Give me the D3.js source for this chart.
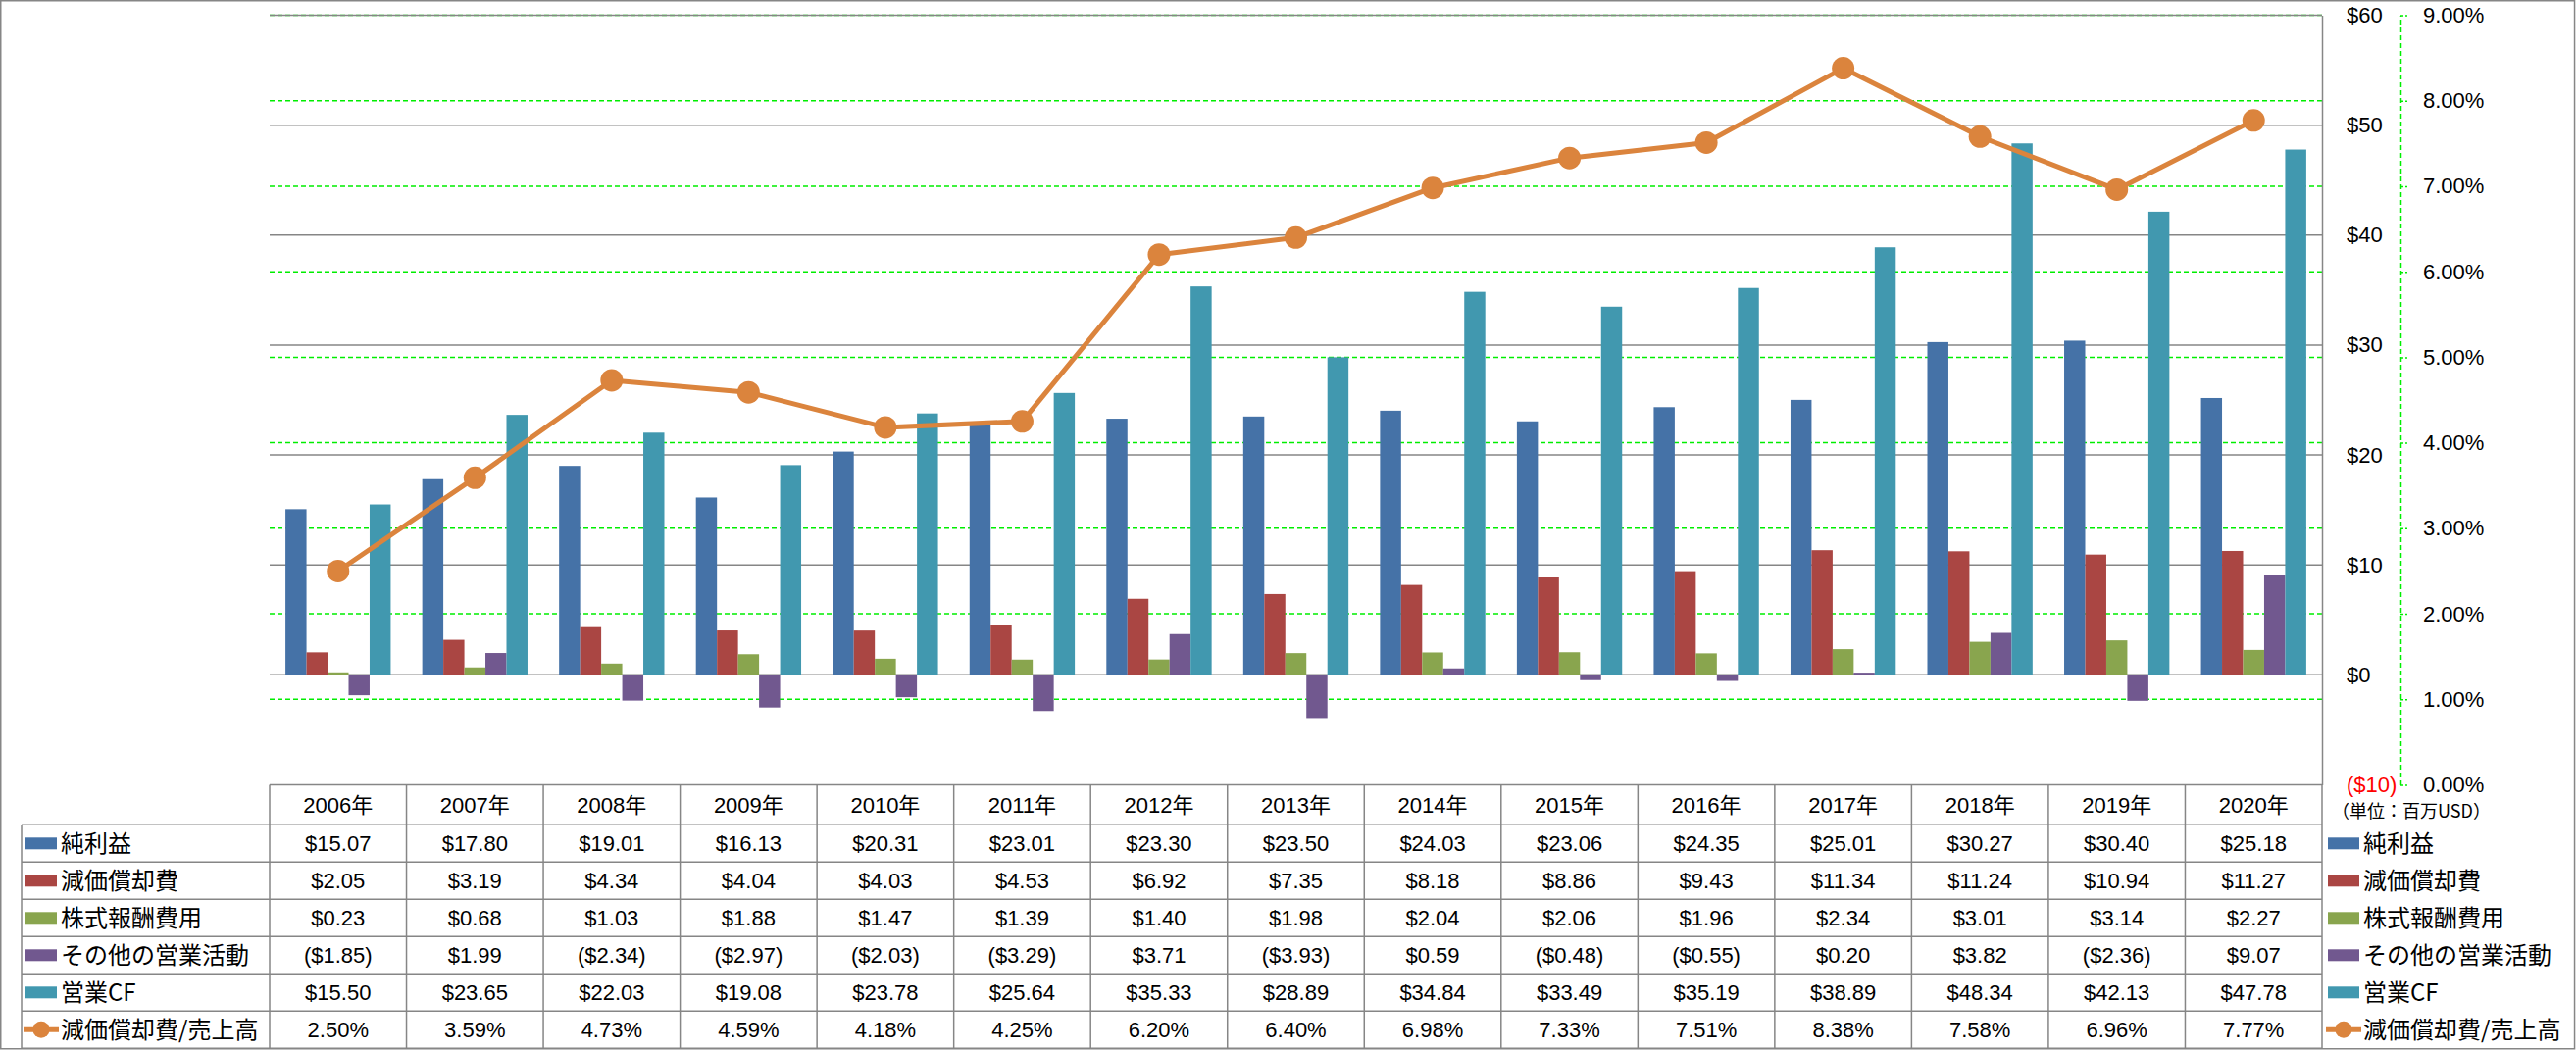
<!DOCTYPE html>
<html><head><meta charset="utf-8">
<script src="https://cdn.jsdelivr.net/npm/d3@7/dist/d3.min.js"></script>
<style>
html,body{margin:0;padding:0;background:#fff;}
svg{display:block;}
</style></head>
<body>
<script>
// ---- data ----
const years = ["2006年","2007年","2008年","2009年","2010年","2011年","2012年","2013年","2014年","2015年","2016年","2017年","2018年","2019年","2020年"];
const seriesNames = ["純利益","減価償却費","株式報酬費用","その他の営業活動","営業CF"];
const lineName = "減価償却費/売上高";
const netIncome    = [15.07,17.80,19.01,16.13,20.31,23.01,23.30,23.50,24.03,23.06,24.35,25.01,30.27,30.40,25.18];
const depreciation = [2.05,3.19,4.34,4.04,4.03,4.53,6.92,7.35,8.18,8.86,9.43,11.34,11.24,10.94,11.27];
const stockComp    = [0.23,0.68,1.03,1.88,1.47,1.39,1.40,1.98,2.04,2.06,1.96,2.34,3.01,3.14,2.27];
const otherOps     = [-1.85,1.99,-2.34,-2.97,-2.03,-3.29,3.71,-3.93,0.59,-0.48,-0.55,0.20,3.82,-2.36,9.07];
const operatingCF  = [15.50,23.65,22.03,19.08,23.78,25.64,35.33,28.89,34.84,33.49,35.19,38.89,48.34,42.13,47.78];
const deprRatio    = [2.50,3.59,4.73,4.59,4.18,4.25,6.20,6.40,6.98,7.33,7.51,8.38,7.58,6.96,7.77]; // %
const leftTicks  = [-10,0,10,20,30,40,50,60];
const rightTicks = [0,1,2,3,4,5,6,7,8,9]; // %
const unitLabel = "（単位：百万USD）";

const seriesValues = [netIncome, depreciation, stockComp, otherOps, operatingCF];
const colors = ["#4572A7","#AA4643","#89A54E","#71588F","#4198AF"];
const lineColor = "#DB843D";

// ---- layout ----
const W = 2627, H = 1071;
const plotL = 275, plotR = 2368, plotT = 15.5, plotB = 800.5;
const tableL = 22, headerTop = 800.5, headerBottom = 841.3, rowH = 38;
const gray = "#868686", green = "#00ee00";
const numFont = "'Liberation Sans', 'Noto Sans CJK JP', sans-serif";
const jpFont = "'Noto Sans CJK JP', sans-serif";

const svg = d3.select("body").append("svg").attr("width", W).attr("height", H);

const x0 = d3.scaleBand().domain(years).range([plotL, plotR]).padding(0);
const bw = x0.bandwidth(), unit = bw / 6.5;
const x1 = d3.scaleBand().domain(d3.range(5)).range([0.75*unit, 5.75*unit]).padding(0);
const y = d3.scaleLinear().domain([-10, 60]).range([plotB, plotT]);
const y2 = d3.scaleLinear().domain([0, 9]).range([plotB, plotT]);

// outer border
svg.append("rect").attr("x",0.75).attr("y",0.75).attr("width",W-2.2).attr("height",1069)
  .attr("fill","none").attr("stroke",gray).attr("stroke-width",1.5);

// green dashed gridlines (secondary)
svg.append("g").selectAll("line").data(rightTicks.filter(d=>d>0)).join("line")
  .attr("x1",plotL).attr("x2",plotR).attr("y1",d=>y2(d)).attr("y2",d=>y2(d))
  .attr("stroke",green).attr("stroke-width",1.5).attr("stroke-dasharray","5,3");

// gray gridlines (primary)
svg.append("g").selectAll("line").data(leftTicks.filter(d=>d>-10)).join("line")
  .attr("x1",plotL).attr("x2",plotR).attr("y1",d=>y(d)).attr("y2",d=>y(d))
  .attr("stroke",gray).attr("stroke-width",1.5);

// bars
const gBars = svg.append("g");
seriesValues.forEach((vals, si) => {
  gBars.append("g").selectAll("rect").data(vals).join("rect")
    .attr("x",(d,i)=>x0(years[i]) + x1(si))
    .attr("width", x1.bandwidth())
    .attr("y", d => y(Math.max(0,d)))
    .attr("height", d => Math.abs(y(d) - y(0)))
    .attr("fill", colors[si]);
});

// line
const cx = i => x0(years[i]) + bw/2;
svg.append("path").datum(deprRatio)
  .attr("d", d3.line().x((d,i)=>cx(i)).y(d=>y2(d)))
  .attr("fill","none").attr("stroke",lineColor).attr("stroke-width",5).attr("stroke-linejoin","round");
svg.append("g").selectAll("circle").data(deprRatio).join("circle")
  .attr("cx",(d,i)=>cx(i)).attr("cy",d=>y2(d)).attr("r",11.5).attr("fill",lineColor);

// primary axis (right side of plot)
const fmtMoney = d => d < 0 ? `($${Math.abs(d)})` : `$${d}`;
const axL = svg.append("g").attr("transform",`translate(${plotR},0)`)
  .call(d3.axisRight(y).tickValues(leftTicks).tickFormat(fmtMoney).tickSize(0).tickPadding(25));
axL.select(".domain").attr("stroke",gray).attr("stroke-width",1.5);
axL.selectAll("text").attr("font-family",numFont).attr("font-size",22)
  .attr("fill",d=>d<0?"#ff0000":"#000");

// secondary axis
const axR = svg.append("g").attr("transform",`translate(2448,0)`)
  .call(d3.axisRight(y2).tickValues(rightTicks).tickFormat(d=>d.toFixed(2)+"%").tickSize(7).tickSizeOuter(0).tickPadding(16));
axR.select(".domain").attr("stroke",green).attr("stroke-width",1.5).attr("stroke-dasharray","5,3");
axR.selectAll(".tick line").attr("stroke",green).attr("stroke-width",1.5).attr("stroke-dasharray","3,2");
axR.selectAll("text").attr("font-family",numFont).attr("font-size",22).attr("fill","#000");

// unit label
svg.append("text").attr("x",2378).attr("y",828).attr("dy","0.35em")
  .attr("font-family",jpFont).attr("font-size",18).attr("fill","#000").text(unitLabel);

// ---- data table ----
const gT = svg.append("g");
const rowsTop = d3.range(7).map(i => headerBottom + i*rowH);
// horizontal lines
gT.append("line").attr("x1",plotL).attr("x2",plotR).attr("y1",headerTop).attr("y2",headerTop)
  .attr("stroke",gray).attr("stroke-width",1.5);
gT.selectAll("line.h").data(rowsTop).join("line").attr("class","h")
  .attr("x1",tableL).attr("x2",plotR).attr("y1",d=>d).attr("y2",d=>d)
  .attr("stroke",gray).attr("stroke-width",1.5);
// vertical lines
gT.append("line").attr("x1",tableL).attr("x2",tableL).attr("y1",headerBottom).attr("y2",rowsTop[6])
  .attr("stroke",gray).attr("stroke-width",1.5);
const vx = years.map(d=>x0(d)).concat([plotR]);
gT.selectAll("line.v").data(vx).join("line").attr("class","v")
  .attr("x1",d=>d).attr("x2",d=>d).attr("y1",headerTop).attr("y2",rowsTop[6])
  .attr("stroke",gray).attr("stroke-width",1.5);

// header
gT.selectAll("text.hd").data(years).join("text").attr("class","hd")
  .attr("x",d=>x0(d)+bw/2).attr("y",(headerTop+headerBottom)/2).attr("dy","0.35em")
  .attr("text-anchor","middle").attr("font-family",numFont).attr("font-size",22).attr("fill","#000")
  .text(d=>d);

const fmtCell = v => v < 0 ? `($${Math.abs(v).toFixed(2)})` : `$${v.toFixed(2)}`;
const allRows = seriesValues.map((vals,si)=>({name:seriesNames[si], cells:vals.map(fmtCell), color:colors[si], type:"bar"}))
  .concat([{name:lineName, cells:deprRatio.map(v=>v.toFixed(2)+"%"), color:lineColor, type:"line"}]);

allRows.forEach((r, ri) => {
  const cy = rowsTop[ri] + rowH/2;
  gT.append("g").selectAll("text").data(r.cells).join("text")
    .attr("x",(d,i)=>x0(years[i])+bw/2).attr("y",cy).attr("dy","0.35em")
    .attr("text-anchor","middle").attr("font-family",numFont).attr("font-size",22).attr("fill","#000")
    .text(d=>d);
  // legend keys in table and right legend
  [[26, 62],[2374, 2410]].forEach(([kx, tx]) => {
    if (r.type === "bar") {
      gT.append("rect").attr("x",kx).attr("y",cy-6).attr("width",32).attr("height",12).attr("fill",r.color);
    } else {
      gT.append("line").attr("x1",kx-2).attr("x2",kx+34).attr("y1",cy).attr("y2",cy)
        .attr("stroke",r.color).attr("stroke-width",5);
      gT.append("circle").attr("cx",kx+16).attr("cy",cy).attr("r",8.5).attr("fill",r.color);
    }
    gT.append("text").attr("x",tx).attr("y",cy).attr("dy","0.36em")
      .attr("font-family",jpFont).attr("font-size",24).attr("fill","#000").text(r.name);
  });
});
</script>
</body></html>
